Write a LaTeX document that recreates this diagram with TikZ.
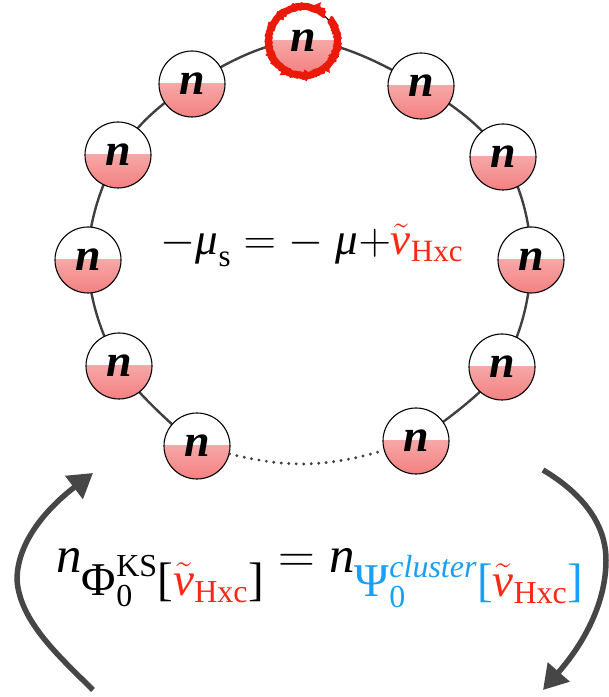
\RequirePackage{fix-cm}
\documentclass[tikz,border=0pt]{standalone}
\usepackage{amsmath}
\usepackage[no-math]{fontspec}
\newfontfamily\tms{Liberation Serif}
\usetikzlibrary{arrows.meta,decorations.pathmorphing}
\DeclareMathSizes{51}{51}{47}{32}
\DeclareMathSizes{45}{45}{31}{23}
\definecolor{vred}{RGB}{250,40,20}
\definecolor{vblue}{RGB}{25,160,245}
\definecolor{ringgray}{RGB}{64,64,64}
\definecolor{arrgray}{RGB}{70,70,70}
\definecolor{pinkA}{RGB}{250,205,205}
\definecolor{pinkB}{RGB}{243,128,128}
\definecolor{ringred}{RGB}{235,25,10}
\newcommand{\tmi}[1]{\text{\tms\itshape #1}}
\newcommand{\tmr}[1]{\text{\tms #1}}
\begin{document}
\begin{tikzpicture}[x=1pt,y=1pt,
  site/.style={circle, minimum size=66pt, inner sep=0pt, draw=black, line width=1.1pt, fill=white,
    path picture={\shade[top color=pinkA, bottom color=pinkB] (path picture bounding box.west) rectangle (path picture bounding box.south east);},
    font=\fontsize{46}{50}\selectfont\tms\bfseries\itshape},
  ringline/.style={draw=ringgray, line width=2.4pt},
  dotline/.style={draw=ringgray, line width=3.2pt, line cap=round, dash pattern=on 0pt off 7.5pt},
  redring/.style={draw=ringred, line width=7pt, decorate, decoration={random steps, segment length=1.2pt, amplitude=0.7pt}},
  cyc/.style={draw=arrgray, line width=5.5pt, -{Triangle[length=24pt,width=28pt]}}
]
\useasboundingbox (0,0) rectangle (609,697);
\fill[white] (0,0) rectangle (609,697);
\coordinate (p1) at (303,656);
\coordinate (p2) at (192,613);
\coordinate (p3) at (118,542);
\coordinate (p4) at (88,437);
\coordinate (p5) at (119,331);
\coordinate (p6) at (197,251);
\coordinate (p7) at (416,256);
\coordinate (p8) at (502,330);
\coordinate (p9) at (531,437);
\coordinate (p10) at (503,540);
\coordinate (p11) at (421,611);
\draw[ringline] plot[smooth, tension=0.6] coordinates {(p7) (p8) (p9) (p10) (p11) (p1) (p2) (p3) (p4) (p5) (p6)};
\foreach \i in {1,...,11} { \node[site] (n\i) at (p\i) {n}; }
\draw[redring] (n1.center) ++(50:34.5pt) arc[start angle=50, end angle=400, radius=34.5pt];
\draw[dotline] (n6) to[bend right=15] (n7);
\node[anchor=base, font=\fontsize{45}{54}\selectfont] (eqc) at (312,442)
  {$-\tmi{μ}_{\tmr{s}} = {-}\;\tmi{μ}{+}\textcolor{vred}{\tilde{\tmi{v}}_{\tmr{Hxc}}}$};
\node[anchor=base, font=\fontsize{51}{60}\selectfont] (eqb) at (320,124)
  {$\tmi{n}_{\tmr{Φ}_{\tmr{0}}^{\tmr{KS}}\tmr{[}\textcolor{vred}{\tilde{\tmi{v}}_{\tmr{Hxc}}}\tmr{]}} = \tmi{n}_{\textcolor{vblue}{\tmr{Ψ}_{\tmr{0}}^{\tmi{cluster}}\tmr{[}\textcolor{vred}{\tilde{\tmi{v}}_{\tmr{Hxc}}}\tmr{]}}}$};
\coordinate (la) at (93,7);
\coordinate (lm) at (17,117);
\coordinate (lb) at (93,224);
\coordinate (ra) at (543,227);
\coordinate (rm) at (606,137);
\coordinate (rb) at (543,7);
\draw[cyc] (la) .. controls (60,40) and (20,75) .. (lm) .. controls (17,160) and (55,195) .. (lb);
\draw[cyc] (ra) .. controls (580,205) and (606,175) .. (rm) .. controls (606,95) and (585,55) .. (rb);
\end{tikzpicture}
\end{document}
